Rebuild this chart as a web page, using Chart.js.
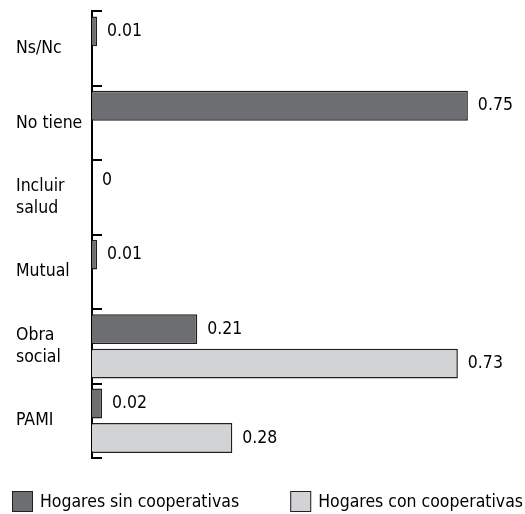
<!DOCTYPE html>
<html>
<head>
<meta charset="utf-8">
<script src="https://cdn.jsdelivr.net/npm/chart.js@4/dist/chart.umd.min.js"></script>
<style>
  html, body { margin: 0; padding: 0; background: #fff; }
  #wrap { width: 525px; height: 514px; }
</style>
</head>
<body>
<div id="wrap"><canvas id="chart"></canvas></div>
<script>
const categories = ['Ns/Nc', 'No tiene', ['Incluir', 'salud'], 'Mutual', ['Obra', 'social'], 'PAMI'];
const sinCoop = [0.01, 0.75, 0, 0.01, 0.21, 0.02];
const conCoop = [null, null, null, null, 0.73, 0.28];
const seriesNames = ['Hogares sin cooperativas', 'Hogares con cooperativas'];

const FONT = "'DejaVu Sans Condensed', 'Liberation Sans Narrow', sans-serif";
const FSIZE = 17.5;

// value labels right of each bar
const valueLabels = {
    id: 'valueLabels',
    afterDatasetsDraw(chart) {
        const ctx = chart.ctx;
        ctx.save();
        ctx.font = FSIZE + 'px ' + FONT;
        ctx.fillStyle = '#000';
        ctx.textBaseline = 'middle';
        ctx.textAlign = 'left';
        chart.data.datasets.forEach((ds, di) => {
            chart.getDatasetMeta(di).data.forEach((bar, i) => {
                const v = ds.data[i];
                if (v === null) return;
                ctx.fillText(String(v), bar.x + 10, bar.y);
            });
        });
        ctx.restore();
    }
};

// short inward tick marks at the category boundaries
const axisTicks = {
    id: 'axisTicks',
    afterDraw(chart) {
        const y = chart.scales.y;
        const ctx = chart.ctx;
        ctx.save();
        ctx.strokeStyle = '#000';
        ctx.lineWidth = 2;
        for (let i = 0; i <= categories.length; i++) {
            const py = Math.round(y.getPixelForValue(i - 0.5));
            ctx.beginPath();
            ctx.moveTo(y.right - 1, py);
            ctx.lineTo(y.right + 10, py);
            ctx.stroke();
        }
        ctx.restore();
    }
};

// legend spread over the bottom edge
const bottomLegend = {
    id: 'bottomLegend',
    afterDraw(chart) {
        const ctx = chart.ctx;
        const w = chart.width;
        ctx.save();
        ctx.font = FSIZE + 'px ' + FONT;
        ctx.textBaseline = 'middle';
        chart.data.datasets.forEach((ds, di) => {
            const tw = ctx.measureText(ds.label).width;
            const itemW = 21 + 7 + tw;
            const x = di === 0 ? 12 : w - 2 - itemW;
            const yTop = 491;
            ctx.fillStyle = ds.backgroundColor;
            ctx.fillRect(x, yTop, 21, 21);
            ctx.strokeStyle = '#231f20';
            ctx.lineWidth = 1;
            ctx.strokeRect(x + 0.5, yTop + 0.5, 20, 20);
            ctx.fillStyle = '#000';
            ctx.fillText(ds.label, x + 28, yTop + 11);
        });
        ctx.restore();
    }
};

new Chart(document.getElementById('chart'), {
    type: 'bar',
    data: {
        labels: categories,
        datasets: [{
            label: seriesNames[0],
            data: sinCoop,
            backgroundColor: '#6d6e71',
            borderColor: '#231f20',
            borderWidth: 1.5
        }, {
            label: seriesNames[1],
            data: conCoop,
            backgroundColor: '#d1d3d4',
            borderColor: '#231f20',
            borderWidth: 1.5
        }]
    },
    options: {
        indexAxis: 'y',
        responsive: true,
        maintainAspectRatio: false,
        animation: false,
        categoryPercentage: 0.926,
        barPercentage: 0.867,
        layout: { padding: { left: 16, right: 2, top: 10, bottom: 56 } },
        scales: {
            x: {
                display: false,
                min: 0,
                max: 0.86
            },
            y: {
                afterFit(scale) { scale.width = 76; },
                grid: { display: false, drawTicks: false },
                border: { display: true, color: '#000', width: 2 },
                ticks: {
                    crossAlign: 'far',
                    color: '#000',
                    padding: 0,
                    font: { family: FONT, size: FSIZE, lineHeight: 1.3 }
                }
            }
        },
        plugins: {
            legend: { display: false },
            tooltip: { enabled: false }
        }
    },
    plugins: [valueLabels, axisTicks, bottomLegend]
});
</script>
</body>
</html>
